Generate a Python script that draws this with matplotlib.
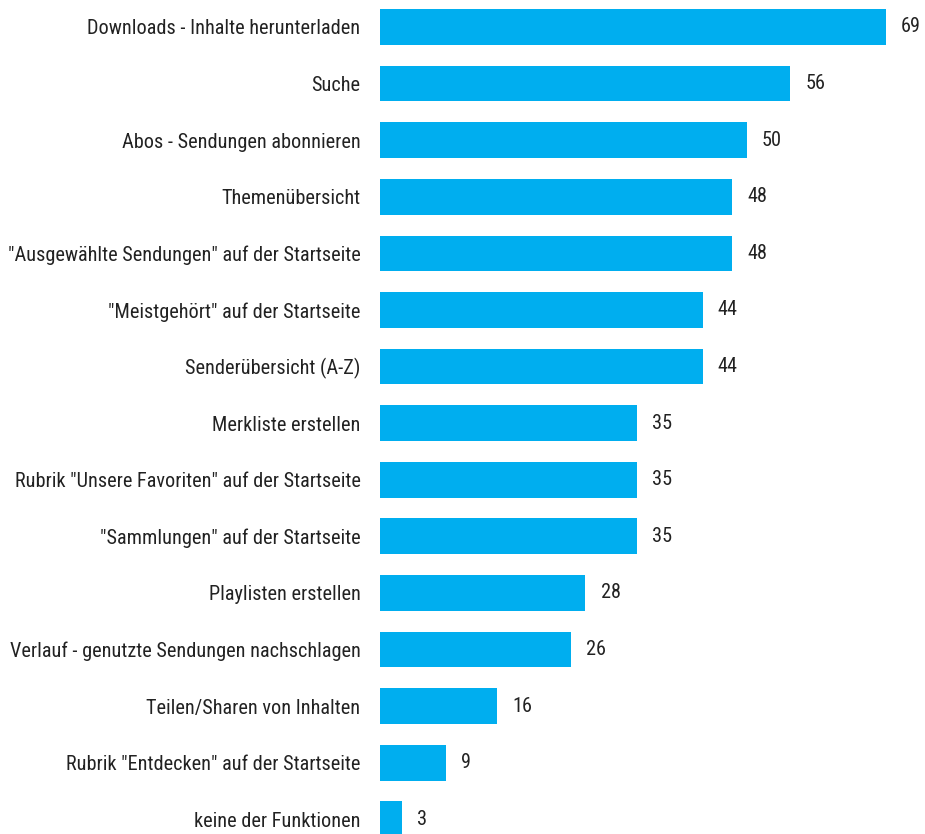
import matplotlib.pyplot as plt

labels = [
    "Downloads - Inhalte herunterladen",
    "Suche",
    "Abos - Sendungen abonnieren",
    "Themenübersicht",
    "\"Ausgewählte Sendungen\" auf der Startseite",
    "\"Meistgehört\" auf der Startseite",
    "Senderübersicht (A-Z)",
    "Merkliste erstellen",
    "Rubrik \"Unsere Favoriten\" auf der Startseite",
    "\"Sammlungen\" auf der Startseite",
    "Playlisten erstellen",
    "Verlauf - genutzte Sendungen nachschlagen",
    "Teilen/Sharen von Inhalten",
    "Rubrik \"Entdecken\" auf der Startseite",
    "keine der Funktionen",
]
werte = [69, 56, 50, 48, 48, 44, 44, 35, 35, 35, 28, 26, 16, 9, 3]

plt.rcParams['font.family'] = ['Roboto Condensed', 'Roboto', 'DejaVu Sans']
fs = 14.6

fig = plt.figure(figsize=(9.25, 8.34), dpi=100)
ax = fig.add_axes([380/925, 0, 545/925, 1])

pos = list(range(len(werte)))
ax.barh(pos, werte, height=0.63, color="#00AEEF")

# Werte rechts neben den Balken
for y, v in zip(pos, werte):
    ax.annotate(str(v), (v, y), xytext=(11, 0), textcoords="offset points",
                ha="left", va="center", fontsize=fs, color="#222222")

ax.set_yticks(pos)
ax.set_yticklabels(labels, fontsize=fs, color="#222222")
ax.tick_params(axis="y", length=0, pad=14)
ax.set_xticks([])
ax.set_xlim(0, 545/7.33)
ax.set_ylim(14.26, -0.477)
for s in ax.spines.values():
    s.set_visible(False)

fig.savefig("out.png", dpi=100)
